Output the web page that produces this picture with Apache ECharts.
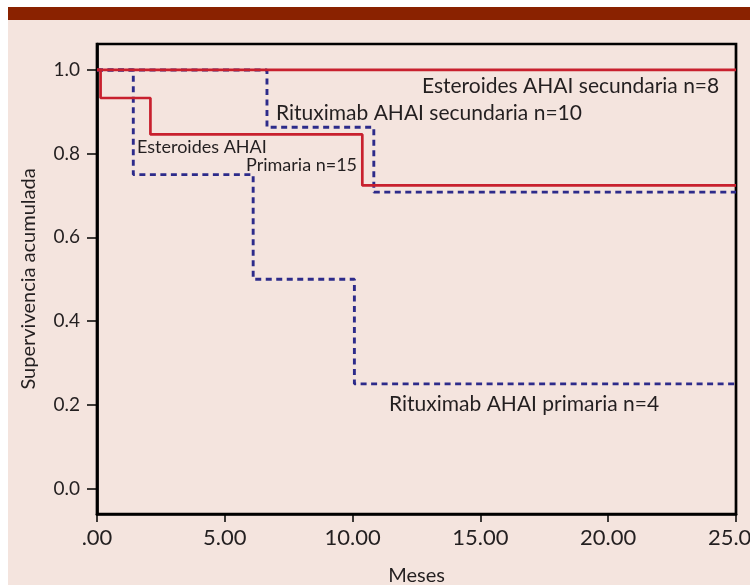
<!DOCTYPE html>
<html>
<head>
<meta charset="utf-8">
<script src="https://cdn.jsdelivr.net/npm/echarts@6/dist/echarts.min.js"></script>
<style>
html,body{margin:0;padding:0;background:#fff;}
#c{width:750px;height:585px;}
</style>
</head>
<body>
<div id="c"></div>
<script>
// ---- data ----
const xTickValues = [0, 5, 10, 15, 20, 25];
const xTickLabels = ['.00', '5.00', '10.00', '15.00', '20.00', '25.00'];
const yTickValues = [0, 0.2, 0.4, 0.6, 0.8, 1.0];
const yTickLabels = ['0.0', '0.2', '0.4', '0.6', '0.8', '1.0'];

// Kaplan-Meier step curves: [time in months, survival after event]
const esteroidesSecundaria = [[0, 1], [25, 1]];
const esteroidesPrimaria = [[0, 1], [0.14, 0.933], [2.09, 0.846], [10.38, 0.724], [25, 0.724]];
const rituximabSecundaria = [[0, 1], [6.65, 0.863], [10.83, 0.708], [25, 0.708]];
const rituximabPrimaria = [[0, 1], [1.42, 0.75], [6.11, 0.5], [10.07, 0.25], [25, 0.25]];

const annotationTexts = [
  'Esteroides AHAI secundaria n=8',
  'Rituximab AHAI secundaria n=10',
  'Esteroides AHAI',
  'Primaria n=15',
  'Rituximab AHAI primaria n=4'
];

const RED = '#C8202E';
const BLUE = '#2D2B8A';
const TXT = '#231F20';
const FONT = 'Lato';

const chart = echarts.init(document.getElementById('c'), null, {renderer: 'canvas'});

function ann(i, x, y, size) {
  return {
    type: 'text', x: x, y: y, z: 50,
    style: {text: annotationTexts[i], fill: TXT, font: size + 'px ' + FONT, textVerticalAlign: 'middle', textAlign: 'left'}
  };
}

const option = {
  backgroundColor: '#ffffff',
  animation: false,
  graphic: [
    {type: 'rect', z: -10, shape: {x: 8, y: 20, width: 742, height: 565}, style: {fill: '#F4E4DE'}},
    {type: 'rect', z: -10, shape: {x: 8, y: 7, width: 742, height: 13}, style: {fill: '#8A2200'}},
    ann(0, 422, 86, 21),
    ann(1, 276, 113, 21),
    ann(2, 137, 147, 18),
    ann(3, 246, 165, 18),
    ann(4, 389, 404, 21)
  ],
  grid: {
    left: 97, right: 14, top: 44, bottom: 71,
    outerBoundsMode: 'none', containLabel: false,
    show: true, borderColor: '#000', borderWidth: 2.7, backgroundColor: 'transparent'
  },
  xAxis: {
    type: 'value', min: 0, max: 25, interval: 5,
    name: 'Meses', nameLocation: 'middle', nameGap: 52,
    nameTextStyle: {fontFamily: FONT, fontSize: 20, color: TXT},
    axisLine: {show: true, onZero: false, lineStyle: {color: '#000', width: 2.7}},
    axisTick: {show: true, length: 8, lineStyle: {color: '#000', width: 1.5}, customValues: xTickValues},
    axisLabel: {
      customValues: xTickValues, margin: 13,
      fontFamily: FONT, fontSize: 22, color: TXT,
      formatter: function (v) { const i = xTickValues.indexOf(v); return i >= 0 ? xTickLabels[i] : ''; }
    },
    splitLine: {show: false}
  },
  yAxis: {
    type: 'value', min: -0.061, max: 1.062,
    name: 'Supervivencia acumulada', nameLocation: 'middle', nameGap: 58,
    nameTextStyle: {fontFamily: FONT, fontSize: 20, color: TXT},
    axisLine: {show: true, onZero: false, lineStyle: {color: '#000', width: 2.7}},
    axisTick: {show: true, length: 10, lineStyle: {color: '#000', width: 1.5}, customValues: yTickValues},
    axisLabel: {
      customValues: yTickValues, margin: 17,
      fontFamily: FONT, fontSize: 19, color: TXT,
      formatter: function (v) {
        for (let i = 0; i < yTickValues.length; i++) if (Math.abs(yTickValues[i] - v) < 1e-6) return yTickLabels[i];
        return '';
      }
    },
    splitLine: {show: false}
  },
  series: [
    {type: 'line', step: 'end', data: rituximabPrimaria, symbol: 'none', z: 3,
     lineStyle: {color: BLUE, width: 2.9, type: [6, 4.5]}},
    {type: 'line', step: 'end', data: rituximabSecundaria, symbol: 'none', z: 3,
     lineStyle: {color: BLUE, width: 2.9, type: [6, 4.5]}},
    {type: 'line', step: 'end', data: esteroidesPrimaria, symbol: 'none', z: 4,
     lineStyle: {color: RED, width: 2.7}},
    {type: 'line', step: 'end', data: esteroidesSecundaria, symbol: 'none', z: 4,
     lineStyle: {color: RED, width: 2.7}}
  ]
};
chart.setOption(option);
</script>
</body>
</html>
